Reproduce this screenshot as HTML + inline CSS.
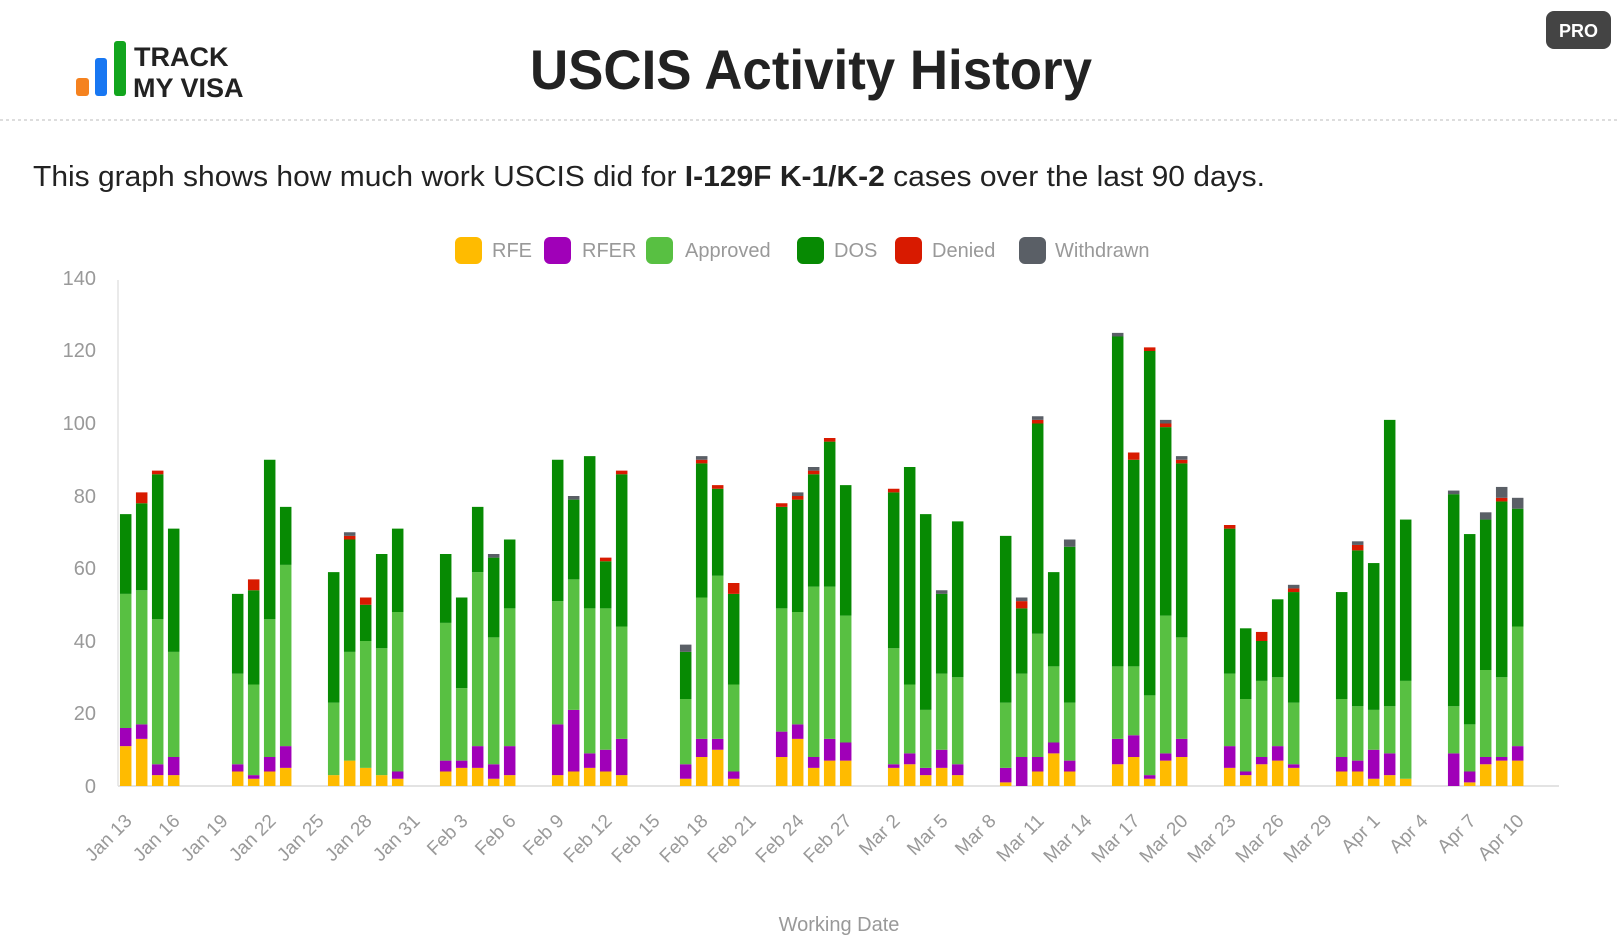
<!DOCTYPE html>
<html><head><meta charset="utf-8"><style>
html,body{margin:0;padding:0;background:#fff;width:1619px;height:941px;overflow:hidden}
svg{display:block;font-family:"Liberation Sans",sans-serif}
.a{fill:#FFBB00}.b{fill:#A000B8}.c{fill:#58C042}.d{fill:#078A03}.e{fill:#D81A00}.f{fill:#5A5F66}
</style></head><body>
<svg width="1619" height="941" viewBox="0 0 1619 941" xmlns="http://www.w3.org/2000/svg">
<rect x="76" y="78" width="13" height="18" rx="3" fill="#F5821F"/>
<rect x="95" y="58" width="12" height="38" rx="3" fill="#1877F2"/>
<rect x="114" y="41" width="12" height="55" rx="3" fill="#12A51E"/>
<text x="134" y="66" font-size="27" font-weight="bold" fill="#222">TRACK</text>
<text x="133" y="97" font-size="27" font-weight="bold" fill="#222">MY VISA</text>
<text x="530" y="89" font-size="56" font-weight="bold" fill="#222" textLength="562" lengthAdjust="spacingAndGlyphs">USCIS Activity History</text>
<line x1="0" y1="120" x2="1619" y2="120" stroke="#ddd" stroke-width="2" stroke-dasharray="3,3"/>
<rect x="1546" y="11" width="65" height="38" rx="8" fill="#444"/>
<text x="1578.5" y="37" font-size="18" font-weight="bold" fill="#fff" text-anchor="middle">PRO</text>
<text x="33" y="186" font-size="29" fill="#222" textLength="1232" lengthAdjust="spacingAndGlyphs">This graph shows how much work USCIS did for <tspan font-weight="bold">I-129F K-1/K-2</tspan> cases over the last 90 days.</text>
<g font-size="20" fill="#999">
<rect x="455" y="237" width="27" height="27" rx="6" fill="#FFBB00"/><text x="492" y="257">RFE</text>
<rect x="544" y="237" width="27" height="27" rx="6" fill="#A000B8"/><text x="582" y="257">RFER</text>
<rect x="646" y="237" width="27" height="27" rx="6" fill="#58C042"/><text x="685" y="257">Approved</text>
<rect x="797" y="237" width="27" height="27" rx="6" fill="#078A03"/><text x="834" y="257">DOS</text>
<rect x="895" y="237" width="27" height="27" rx="6" fill="#D81A00"/><text x="932" y="257">Denied</text>
<rect x="1019" y="237" width="27" height="27" rx="6" fill="#5A5F66"/><text x="1055" y="257">Withdrawn</text>
</g>
<g font-size="20" fill="#999" text-anchor="end">
<text x="96" y="793">0</text><text x="96" y="720">20</text><text x="96" y="648">40</text><text x="96" y="575">60</text>
<text x="96" y="503">80</text><text x="96" y="430">100</text><text x="96" y="357">120</text><text x="96" y="285">140</text>
</g>
<line x1="118" y1="280" x2="118" y2="786" stroke="#e3e3e3" stroke-width="1.5"/>
<line x1="118" y1="786" x2="1559" y2="786" stroke="#e3e3e3" stroke-width="2"/>
<g>
<g transform="translate(119.95,786) scale(1,-3.625)"><rect class="a" y="0" height="11" width="11.5"/><rect class="b" y="11" height="5" width="11.5"/><rect class="c" y="16" height="37" width="11.5"/><rect class="d" y="53" height="22" width="11.5"/></g>
<g transform="translate(135.95,786) scale(1,-3.625)"><rect class="a" y="0" height="13" width="11.5"/><rect class="b" y="13" height="4" width="11.5"/><rect class="c" y="17" height="37" width="11.5"/><rect class="d" y="54" height="24" width="11.5"/><rect class="e" y="78" height="3" width="11.5"/></g>
<g transform="translate(151.95,786) scale(1,-3.625)"><rect class="a" y="0" height="3" width="11.5"/><rect class="b" y="3" height="3" width="11.5"/><rect class="c" y="6" height="40" width="11.5"/><rect class="d" y="46" height="40" width="11.5"/><rect class="e" y="86" height="1" width="11.5"/></g>
<g transform="translate(167.95,786) scale(1,-3.625)"><rect class="a" y="0" height="3" width="11.5"/><rect class="b" y="3" height="5" width="11.5"/><rect class="c" y="8" height="29" width="11.5"/><rect class="d" y="37" height="34" width="11.5"/></g>
<g transform="translate(231.95,786) scale(1,-3.625)"><rect class="a" y="0" height="4" width="11.5"/><rect class="b" y="4" height="2" width="11.5"/><rect class="c" y="6" height="25" width="11.5"/><rect class="d" y="31" height="22" width="11.5"/></g>
<g transform="translate(247.95,786) scale(1,-3.625)"><rect class="a" y="0" height="2" width="11.5"/><rect class="b" y="2" height="1" width="11.5"/><rect class="c" y="3" height="25" width="11.5"/><rect class="d" y="28" height="26" width="11.5"/><rect class="e" y="54" height="3" width="11.5"/></g>
<g transform="translate(263.95,786) scale(1,-3.625)"><rect class="a" y="0" height="4" width="11.5"/><rect class="b" y="4" height="4" width="11.5"/><rect class="c" y="8" height="38" width="11.5"/><rect class="d" y="46" height="44" width="11.5"/></g>
<g transform="translate(279.95,786) scale(1,-3.625)"><rect class="a" y="0" height="5" width="11.5"/><rect class="b" y="5" height="6" width="11.5"/><rect class="c" y="11" height="50" width="11.5"/><rect class="d" y="61" height="16" width="11.5"/></g>
<g transform="translate(327.95,786) scale(1,-3.625)"><rect class="a" y="0" height="3" width="11.5"/><rect class="c" y="3" height="20" width="11.5"/><rect class="d" y="23" height="36" width="11.5"/></g>
<g transform="translate(343.95,786) scale(1,-3.625)"><rect class="a" y="0" height="7" width="11.5"/><rect class="c" y="7" height="30" width="11.5"/><rect class="d" y="37" height="31" width="11.5"/><rect class="e" y="68" height="1" width="11.5"/><rect class="f" y="69" height="1" width="11.5"/></g>
<g transform="translate(359.95,786) scale(1,-3.625)"><rect class="a" y="0" height="5" width="11.5"/><rect class="c" y="5" height="35" width="11.5"/><rect class="d" y="40" height="10" width="11.5"/><rect class="e" y="50" height="2" width="11.5"/></g>
<g transform="translate(375.95,786) scale(1,-3.625)"><rect class="a" y="0" height="3" width="11.5"/><rect class="c" y="3" height="35" width="11.5"/><rect class="d" y="38" height="26" width="11.5"/></g>
<g transform="translate(391.95,786) scale(1,-3.625)"><rect class="a" y="0" height="2" width="11.5"/><rect class="b" y="2" height="2" width="11.5"/><rect class="c" y="4" height="44" width="11.5"/><rect class="d" y="48" height="23" width="11.5"/></g>
<g transform="translate(439.95,786) scale(1,-3.625)"><rect class="a" y="0" height="4" width="11.5"/><rect class="b" y="4" height="3" width="11.5"/><rect class="c" y="7" height="38" width="11.5"/><rect class="d" y="45" height="19" width="11.5"/></g>
<g transform="translate(455.95,786) scale(1,-3.625)"><rect class="a" y="0" height="5" width="11.5"/><rect class="b" y="5" height="2" width="11.5"/><rect class="c" y="7" height="20" width="11.5"/><rect class="d" y="27" height="25" width="11.5"/></g>
<g transform="translate(471.95,786) scale(1,-3.625)"><rect class="a" y="0" height="5" width="11.5"/><rect class="b" y="5" height="6" width="11.5"/><rect class="c" y="11" height="48" width="11.5"/><rect class="d" y="59" height="18" width="11.5"/></g>
<g transform="translate(487.95,786) scale(1,-3.625)"><rect class="a" y="0" height="2" width="11.5"/><rect class="b" y="2" height="4" width="11.5"/><rect class="c" y="6" height="35" width="11.5"/><rect class="d" y="41" height="22" width="11.5"/><rect class="f" y="63" height="1" width="11.5"/></g>
<g transform="translate(503.95,786) scale(1,-3.625)"><rect class="a" y="0" height="3" width="11.5"/><rect class="b" y="3" height="8" width="11.5"/><rect class="c" y="11" height="38" width="11.5"/><rect class="d" y="49" height="19" width="11.5"/></g>
<g transform="translate(551.95,786) scale(1,-3.625)"><rect class="a" y="0" height="3" width="11.5"/><rect class="b" y="3" height="14" width="11.5"/><rect class="c" y="17" height="34" width="11.5"/><rect class="d" y="51" height="39" width="11.5"/></g>
<g transform="translate(567.95,786) scale(1,-3.625)"><rect class="a" y="0" height="4" width="11.5"/><rect class="b" y="4" height="17" width="11.5"/><rect class="c" y="21" height="36" width="11.5"/><rect class="d" y="57" height="22" width="11.5"/><rect class="f" y="79" height="1" width="11.5"/></g>
<g transform="translate(583.95,786) scale(1,-3.625)"><rect class="a" y="0" height="5" width="11.5"/><rect class="b" y="5" height="4" width="11.5"/><rect class="c" y="9" height="40" width="11.5"/><rect class="d" y="49" height="42" width="11.5"/></g>
<g transform="translate(599.95,786) scale(1,-3.625)"><rect class="a" y="0" height="4" width="11.5"/><rect class="b" y="4" height="6" width="11.5"/><rect class="c" y="10" height="39" width="11.5"/><rect class="d" y="49" height="13" width="11.5"/><rect class="e" y="62" height="1" width="11.5"/></g>
<g transform="translate(615.95,786) scale(1,-3.625)"><rect class="a" y="0" height="3" width="11.5"/><rect class="b" y="3" height="10" width="11.5"/><rect class="c" y="13" height="31" width="11.5"/><rect class="d" y="44" height="42" width="11.5"/><rect class="e" y="86" height="1" width="11.5"/></g>
<g transform="translate(679.95,786) scale(1,-3.625)"><rect class="a" y="0" height="2" width="11.5"/><rect class="b" y="2" height="4" width="11.5"/><rect class="c" y="6" height="18" width="11.5"/><rect class="d" y="24" height="13" width="11.5"/><rect class="f" y="37" height="2" width="11.5"/></g>
<g transform="translate(695.95,786) scale(1,-3.625)"><rect class="a" y="0" height="8" width="11.5"/><rect class="b" y="8" height="5" width="11.5"/><rect class="c" y="13" height="39" width="11.5"/><rect class="d" y="52" height="37" width="11.5"/><rect class="e" y="89" height="1" width="11.5"/><rect class="f" y="90" height="1" width="11.5"/></g>
<g transform="translate(711.95,786) scale(1,-3.625)"><rect class="a" y="0" height="10" width="11.5"/><rect class="b" y="10" height="3" width="11.5"/><rect class="c" y="13" height="45" width="11.5"/><rect class="d" y="58" height="24" width="11.5"/><rect class="e" y="82" height="1" width="11.5"/></g>
<g transform="translate(727.95,786) scale(1,-3.625)"><rect class="a" y="0" height="2" width="11.5"/><rect class="b" y="2" height="2" width="11.5"/><rect class="c" y="4" height="24" width="11.5"/><rect class="d" y="28" height="25" width="11.5"/><rect class="e" y="53" height="3" width="11.5"/></g>
<g transform="translate(775.95,786) scale(1,-3.625)"><rect class="a" y="0" height="8" width="11.5"/><rect class="b" y="8" height="7" width="11.5"/><rect class="c" y="15" height="34" width="11.5"/><rect class="d" y="49" height="28" width="11.5"/><rect class="e" y="77" height="1" width="11.5"/></g>
<g transform="translate(791.95,786) scale(1,-3.625)"><rect class="a" y="0" height="13" width="11.5"/><rect class="b" y="13" height="4" width="11.5"/><rect class="c" y="17" height="31" width="11.5"/><rect class="d" y="48" height="31" width="11.5"/><rect class="e" y="79" height="1" width="11.5"/><rect class="f" y="80" height="1" width="11.5"/></g>
<g transform="translate(807.95,786) scale(1,-3.625)"><rect class="a" y="0" height="5" width="11.5"/><rect class="b" y="5" height="3" width="11.5"/><rect class="c" y="8" height="47" width="11.5"/><rect class="d" y="55" height="31" width="11.5"/><rect class="e" y="86" height="1" width="11.5"/><rect class="f" y="87" height="1" width="11.5"/></g>
<g transform="translate(823.95,786) scale(1,-3.625)"><rect class="a" y="0" height="7" width="11.5"/><rect class="b" y="7" height="6" width="11.5"/><rect class="c" y="13" height="42" width="11.5"/><rect class="d" y="55" height="40" width="11.5"/><rect class="e" y="95" height="1" width="11.5"/></g>
<g transform="translate(839.95,786) scale(1,-3.625)"><rect class="a" y="0" height="7" width="11.5"/><rect class="b" y="7" height="5" width="11.5"/><rect class="c" y="12" height="35" width="11.5"/><rect class="d" y="47" height="36" width="11.5"/></g>
<g transform="translate(887.95,786) scale(1,-3.625)"><rect class="a" y="0" height="5" width="11.5"/><rect class="b" y="5" height="1" width="11.5"/><rect class="c" y="6" height="32" width="11.5"/><rect class="d" y="38" height="43" width="11.5"/><rect class="e" y="81" height="1" width="11.5"/></g>
<g transform="translate(903.95,786) scale(1,-3.625)"><rect class="a" y="0" height="6" width="11.5"/><rect class="b" y="6" height="3" width="11.5"/><rect class="c" y="9" height="19" width="11.5"/><rect class="d" y="28" height="60" width="11.5"/></g>
<g transform="translate(919.95,786) scale(1,-3.625)"><rect class="a" y="0" height="3" width="11.5"/><rect class="b" y="3" height="2" width="11.5"/><rect class="c" y="5" height="16" width="11.5"/><rect class="d" y="21" height="54" width="11.5"/></g>
<g transform="translate(935.95,786) scale(1,-3.625)"><rect class="a" y="0" height="5" width="11.5"/><rect class="b" y="5" height="5" width="11.5"/><rect class="c" y="10" height="21" width="11.5"/><rect class="d" y="31" height="22" width="11.5"/><rect class="f" y="53" height="1" width="11.5"/></g>
<g transform="translate(951.95,786) scale(1,-3.625)"><rect class="a" y="0" height="3" width="11.5"/><rect class="b" y="3" height="3" width="11.5"/><rect class="c" y="6" height="24" width="11.5"/><rect class="d" y="30" height="43" width="11.5"/></g>
<g transform="translate(999.95,786) scale(1,-3.625)"><rect class="a" y="0" height="1" width="11.5"/><rect class="b" y="1" height="4" width="11.5"/><rect class="c" y="5" height="18" width="11.5"/><rect class="d" y="23" height="46" width="11.5"/></g>
<g transform="translate(1015.95,786) scale(1,-3.625)"><rect class="b" y="0" height="8" width="11.5"/><rect class="c" y="8" height="23" width="11.5"/><rect class="d" y="31" height="18" width="11.5"/><rect class="e" y="49" height="2" width="11.5"/><rect class="f" y="51" height="1" width="11.5"/></g>
<g transform="translate(1031.95,786) scale(1,-3.625)"><rect class="a" y="0" height="4" width="11.5"/><rect class="b" y="4" height="4" width="11.5"/><rect class="c" y="8" height="34" width="11.5"/><rect class="d" y="42" height="58" width="11.5"/><rect class="e" y="100" height="1" width="11.5"/><rect class="f" y="101" height="1" width="11.5"/></g>
<g transform="translate(1047.95,786) scale(1,-3.625)"><rect class="a" y="0" height="9" width="11.5"/><rect class="b" y="9" height="3" width="11.5"/><rect class="c" y="12" height="21" width="11.5"/><rect class="d" y="33" height="26" width="11.5"/></g>
<g transform="translate(1063.95,786) scale(1,-3.625)"><rect class="a" y="0" height="4" width="11.5"/><rect class="b" y="4" height="3" width="11.5"/><rect class="c" y="7" height="16" width="11.5"/><rect class="d" y="23" height="43" width="11.5"/><rect class="f" y="66" height="2" width="11.5"/></g>
<g transform="translate(1111.95,786) scale(1,-3.625)"><rect class="a" y="0" height="6" width="11.5"/><rect class="b" y="6" height="7" width="11.5"/><rect class="c" y="13" height="20" width="11.5"/><rect class="d" y="33" height="91" width="11.5"/><rect class="f" y="124" height="1" width="11.5"/></g>
<g transform="translate(1127.95,786) scale(1,-3.625)"><rect class="a" y="0" height="8" width="11.5"/><rect class="b" y="8" height="6" width="11.5"/><rect class="c" y="14" height="19" width="11.5"/><rect class="d" y="33" height="57" width="11.5"/><rect class="e" y="90" height="2" width="11.5"/></g>
<g transform="translate(1143.95,786) scale(1,-3.625)"><rect class="a" y="0" height="2" width="11.5"/><rect class="b" y="2" height="1" width="11.5"/><rect class="c" y="3" height="22" width="11.5"/><rect class="d" y="25" height="95" width="11.5"/><rect class="e" y="120" height="1" width="11.5"/></g>
<g transform="translate(1159.95,786) scale(1,-3.625)"><rect class="a" y="0" height="7" width="11.5"/><rect class="b" y="7" height="2" width="11.5"/><rect class="c" y="9" height="38" width="11.5"/><rect class="d" y="47" height="52" width="11.5"/><rect class="e" y="99" height="1" width="11.5"/><rect class="f" y="100" height="1" width="11.5"/></g>
<g transform="translate(1175.95,786) scale(1,-3.625)"><rect class="a" y="0" height="8" width="11.5"/><rect class="b" y="8" height="5" width="11.5"/><rect class="c" y="13" height="28" width="11.5"/><rect class="d" y="41" height="48" width="11.5"/><rect class="e" y="89" height="1" width="11.5"/><rect class="f" y="90" height="1" width="11.5"/></g>
<g transform="translate(1223.95,786) scale(1,-3.625)"><rect class="a" y="0" height="5" width="11.5"/><rect class="b" y="5" height="6" width="11.5"/><rect class="c" y="11" height="20" width="11.5"/><rect class="d" y="31" height="40" width="11.5"/><rect class="e" y="71" height="1" width="11.5"/></g>
<g transform="translate(1239.95,786) scale(1,-3.625)"><rect class="a" y="0" height="3" width="11.5"/><rect class="b" y="3" height="1" width="11.5"/><rect class="c" y="4" height="20" width="11.5"/><rect class="d" y="24" height="19.5" width="11.5"/></g>
<g transform="translate(1255.95,786) scale(1,-3.625)"><rect class="a" y="0" height="6" width="11.5"/><rect class="b" y="6" height="2" width="11.5"/><rect class="c" y="8" height="21" width="11.5"/><rect class="d" y="29" height="11" width="11.5"/><rect class="e" y="40" height="2.5" width="11.5"/></g>
<g transform="translate(1271.95,786) scale(1,-3.625)"><rect class="a" y="0" height="7" width="11.5"/><rect class="b" y="7" height="4" width="11.5"/><rect class="c" y="11" height="19" width="11.5"/><rect class="d" y="30" height="21.5" width="11.5"/></g>
<g transform="translate(1287.95,786) scale(1,-3.625)"><rect class="a" y="0" height="5" width="11.5"/><rect class="b" y="5" height="1" width="11.5"/><rect class="c" y="6" height="17" width="11.5"/><rect class="d" y="23" height="30.5" width="11.5"/><rect class="e" y="53.5" height="1" width="11.5"/><rect class="f" y="54.5" height="1" width="11.5"/></g>
<g transform="translate(1335.95,786) scale(1,-3.625)"><rect class="a" y="0" height="4" width="11.5"/><rect class="b" y="4" height="4" width="11.5"/><rect class="c" y="8" height="16" width="11.5"/><rect class="d" y="24" height="29.5" width="11.5"/></g>
<g transform="translate(1351.95,786) scale(1,-3.625)"><rect class="a" y="0" height="4" width="11.5"/><rect class="b" y="4" height="3" width="11.5"/><rect class="c" y="7" height="15" width="11.5"/><rect class="d" y="22" height="43" width="11.5"/><rect class="e" y="65" height="1.5" width="11.5"/><rect class="f" y="66.5" height="1" width="11.5"/></g>
<g transform="translate(1367.95,786) scale(1,-3.625)"><rect class="a" y="0" height="2" width="11.5"/><rect class="b" y="2" height="8" width="11.5"/><rect class="c" y="10" height="11" width="11.5"/><rect class="d" y="21" height="40.5" width="11.5"/></g>
<g transform="translate(1383.95,786) scale(1,-3.625)"><rect class="a" y="0" height="3" width="11.5"/><rect class="b" y="3" height="6" width="11.5"/><rect class="c" y="9" height="13" width="11.5"/><rect class="d" y="22" height="79" width="11.5"/></g>
<g transform="translate(1399.95,786) scale(1,-3.625)"><rect class="a" y="0" height="2" width="11.5"/><rect class="c" y="2" height="27" width="11.5"/><rect class="d" y="29" height="44.5" width="11.5"/></g>
<g transform="translate(1447.95,786) scale(1,-3.625)"><rect class="b" y="0" height="9" width="11.5"/><rect class="c" y="9" height="13" width="11.5"/><rect class="d" y="22" height="58.5" width="11.5"/><rect class="f" y="80.5" height="1" width="11.5"/></g>
<g transform="translate(1463.95,786) scale(1,-3.625)"><rect class="a" y="0" height="1" width="11.5"/><rect class="b" y="1" height="3" width="11.5"/><rect class="c" y="4" height="13" width="11.5"/><rect class="d" y="17" height="52.5" width="11.5"/></g>
<g transform="translate(1479.95,786) scale(1,-3.625)"><rect class="a" y="0" height="6" width="11.5"/><rect class="b" y="6" height="2" width="11.5"/><rect class="c" y="8" height="24" width="11.5"/><rect class="d" y="32" height="41.5" width="11.5"/><rect class="f" y="73.5" height="2" width="11.5"/></g>
<g transform="translate(1495.95,786) scale(1,-3.625)"><rect class="a" y="0" height="7" width="11.5"/><rect class="b" y="7" height="1" width="11.5"/><rect class="c" y="8" height="22" width="11.5"/><rect class="d" y="30" height="48.5" width="11.5"/><rect class="e" y="78.5" height="1" width="11.5"/><rect class="f" y="79.5" height="3" width="11.5"/></g>
<g transform="translate(1511.95,786) scale(1,-3.625)"><rect class="a" y="0" height="7" width="11.5"/><rect class="b" y="7" height="4" width="11.5"/><rect class="c" y="11" height="33" width="11.5"/><rect class="d" y="44" height="32.5" width="11.5"/><rect class="f" y="76.5" height="3" width="11.5"/></g>
</g>
<g font-size="19" fill="#999" text-anchor="end">
<text transform="translate(133,822) rotate(-45)">Jan 13</text>
<text transform="translate(181,822) rotate(-45)">Jan 16</text>
<text transform="translate(229,822) rotate(-45)">Jan 19</text>
<text transform="translate(277,822) rotate(-45)">Jan 22</text>
<text transform="translate(325,822) rotate(-45)">Jan 25</text>
<text transform="translate(373,822) rotate(-45)">Jan 28</text>
<text transform="translate(421,822) rotate(-45)">Jan 31</text>
<text transform="translate(469,822) rotate(-45)">Feb 3</text>
<text transform="translate(517,822) rotate(-45)">Feb 6</text>
<text transform="translate(565,822) rotate(-45)">Feb 9</text>
<text transform="translate(613,822) rotate(-45)">Feb 12</text>
<text transform="translate(661,822) rotate(-45)">Feb 15</text>
<text transform="translate(709,822) rotate(-45)">Feb 18</text>
<text transform="translate(757,822) rotate(-45)">Feb 21</text>
<text transform="translate(805,822) rotate(-45)">Feb 24</text>
<text transform="translate(853,822) rotate(-45)">Feb 27</text>
<text transform="translate(901,822) rotate(-45)">Mar 2</text>
<text transform="translate(949,822) rotate(-45)">Mar 5</text>
<text transform="translate(997,822) rotate(-45)">Mar 8</text>
<text transform="translate(1045,822) rotate(-45)">Mar 11</text>
<text transform="translate(1093,822) rotate(-45)">Mar 14</text>
<text transform="translate(1141,822) rotate(-45)">Mar 17</text>
<text transform="translate(1189,822) rotate(-45)">Mar 20</text>
<text transform="translate(1237,822) rotate(-45)">Mar 23</text>
<text transform="translate(1285,822) rotate(-45)">Mar 26</text>
<text transform="translate(1333,822) rotate(-45)">Mar 29</text>
<text transform="translate(1381,822) rotate(-45)">Apr 1</text>
<text transform="translate(1429,822) rotate(-45)">Apr 4</text>
<text transform="translate(1477,822) rotate(-45)">Apr 7</text>
<text transform="translate(1525,822) rotate(-45)">Apr 10</text>
</g>
<text x="839" y="931" font-size="20" fill="#999" text-anchor="middle">Working Date</text>
</svg>
</body></html>
